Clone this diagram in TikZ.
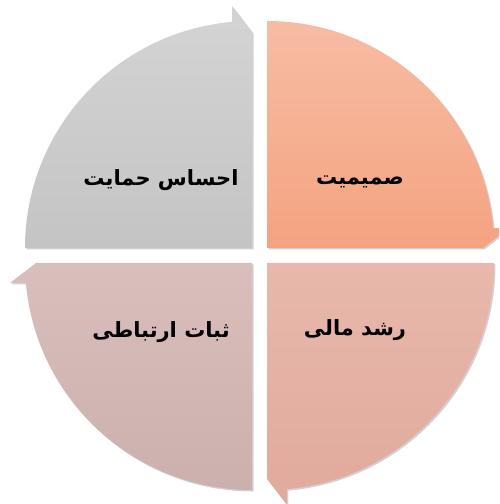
\documentclass[tikz,border=0pt]{standalone}
\usepackage{fontspec}
\newfontfamily\arabicfont[Script=Arabic,BoldFont={DejaVu Sans Bold}]{DejaVu Sans}
\TeXXeTstate=1
\definecolor{tlTop}{RGB}{212,212,212}
\definecolor{tlBot}{RGB}{196,196,196}
\definecolor{trTop}{RGB}{247,188,164}
\definecolor{trBot}{RGB}{244,163,128}
\definecolor{brTop}{RGB}{232,184,172}
\definecolor{brBot}{RGB}{224,170,156}
\definecolor{blTop}{RGB}{216,190,188}
\definecolor{blBot}{RGB}{204,176,174}
\tikzset{
  x=1pt,y=1pt,
  shadowpart/.style={fill=black,fill opacity=0.18,draw=none},
  label/.style={font=\arabicfont\bfseries\fontsize{21}{25}\selectfont,text=black,inner sep=0pt}
}
\begin{document}
\begin{tikzpicture}
\useasboundingbox (0,0) rectangle (499,504);
\clip (0,0) rectangle (499,504);
% shadows
\fill[shadowpart,shift={(1.5,-1.5)}] (252,256) -- (25,256) arc[start angle=180,end angle=95.05,radius=227] -- (232,498) -- (252,472) -- cycle;
\fill[shadowpart,shift={(1.5,-1.5)}] (267,256) -- (267,483) arc[start angle=90,end angle=5.05,radius=227] -- (509,276) -- (483,256) -- cycle;
\fill[shadowpart,shift={(1.5,-1.5)}] (267,241) -- (494,241) arc[start angle=0,end angle=-84.95,radius=227] -- (287,-1) -- (267,25) -- cycle;
\fill[shadowpart,shift={(1.5,-1.5)}] (252,241) -- (252,14) arc[start angle=270,end angle=185.05,radius=227] -- (10,221) -- (36,241) -- cycle;
% top-left
\shade[top color=tlTop,bottom color=tlBot] (252,256) -- (25,256) arc[start angle=180,end angle=95.05,radius=227] -- (232,498) -- (252,472) -- cycle;
% top-right
\shade[top color=trTop,bottom color=trBot] (267,256) -- (267,483) arc[start angle=90,end angle=5.05,radius=227] -- (509,276) -- (483,256) -- cycle;
% bottom-right
\shade[top color=brTop,bottom color=brBot] (267,241) -- (494,241) arc[start angle=0,end angle=-84.95,radius=227] -- (287,-1) -- (267,25) -- cycle;
% bottom-left
\shade[top color=blTop,bottom color=blBot] (252,241) -- (252,14) arc[start angle=270,end angle=185.05,radius=227] -- (10,221) -- (36,241) -- cycle;
% labels
\node[label] (intimacy) at (360,322) {\beginR صمیمیت\endR};
\node[label] (support) at (161,324) {\beginR احساس حمایت\endR};
\node[label] (stability) at (161,172) {\beginR ثبات ارتباطی\endR};
\node[label] (growth) at (355,174) {\beginR رشد مالی\endR};
\end{tikzpicture}
\end{document}
